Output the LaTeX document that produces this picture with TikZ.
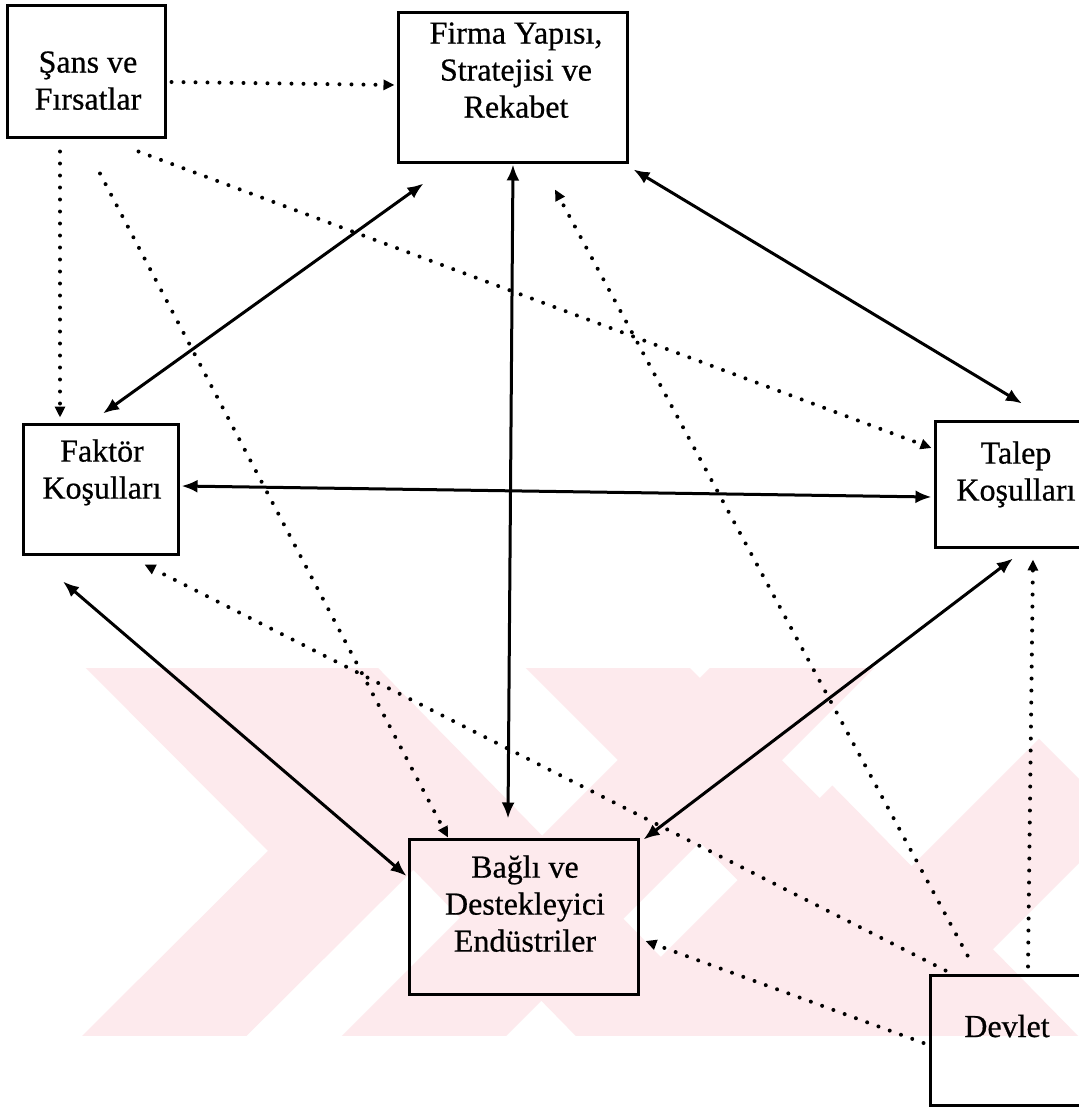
\documentclass[tikz,border=0pt]{standalone}
\usepackage{fontspec}
\setmainfont{Liberation Serif}
\newfontfamily\lblfont{Liberation Serif}[FakeBold=0.6]
\usetikzlibrary{arrows.meta,calc}
\definecolor{wm}{RGB}{253,234,237}
\begin{document}
\begin{tikzpicture}[x=0.5pt,y=-0.5pt,
  box/.style={draw,line width=1.5pt,rectangle,inner sep=0pt},
  lbl/.style={align=center,inner sep=0pt,font={\lblfont\fontsize{16}{18.5}\selectfont}},
  biarrow/.style={line width=1.5pt,{Latex[length=8pt,width=6.5pt]}-{Latex[length=8pt,width=6.5pt]}},
  dotarrow/.style={line width=2pt,line cap=round,dash pattern=on 0pt off 6pt,-{Triangle[length=5.5pt,width=5pt]}},
  wmstripe/.style={wm,line width=58pt,line cap=butt,line join=miter}
]
\useasboundingbox (0,0) rectangle (1079,1108);
\clip (0,0) rectangle (1079,1108);
\fill[white] (0,0) rectangle (1079,1108);
% watermark
\begin{scope}
\clip (0,668) rectangle (1079,1035);
\draw[wmstripe] (120,620) -- (350,851) -- (120,1080);
\draw[wmstripe] (250,620) -- (700,1080);
\draw[wmstripe] (380,1080) -- (840,620);
\draw[wmstripe] (620,1080) -- (832,868) -- (1040,1080);
\draw[wmstripe] (780,1080) -- (1080,780);
\draw[wmstripe] (560,620) -- (1079,1140);
\end{scope}
% boxes
\node[box,minimum width=79pt,minimum height=66pt] (sans) at (86,71) {};
\node[box,minimum width=114.5pt,minimum height=75pt] (firma) at (512.5,87) {};
\node[box,minimum width=77.5pt,minimum height=65pt] (faktor) at (100.5,489) {};
\node[box,minimum width=80pt,minimum height=63pt] (talep) at (1015,484) {};
\node[box,minimum width=114.5pt,minimum height=77.5pt] (bagli) at (523.5,916.5) {};
\node[box,minimum width=77pt,minimum height=65pt] (devlet) at (1007,1040) {};
% labels
\node[lbl,anchor=north] (sansT) at (88,51) {Şans ve\\Fırsatlar};
\node[lbl,anchor=north] (firmaT) at (516,22) {Firma Yapısı,\\Stratejisi ve\\Rekabet};
\node[lbl,anchor=north] (faktorT) at (102,439) {Faktör\\Koşulları};
\node[lbl,anchor=north] (talepT) at (1016,441) {Talep\\Koşulları};
\node[lbl,anchor=north] (bagliT) at (525,855) {Bağlı ve\\Destekleyici\\Endüstriler};
\node[lbl,anchor=base] (devletT) at (1007,1037) {Devlet};
% solid two-way connectors
\draw[biarrow] ([shift={(0.5,1)}]firma.south) -- ([shift={(-15.5,-19)}]bagli.north);
\draw[biarrow] ([shift={(2.5,-9)}]faktor.north) -- ([shift={(27,20)}]firma.south west);
\draw[biarrow] ([shift={(5,6)}]firma.south east) -- ([shift={(7,-16)}]talep.north);
\draw[biarrow] ([shift={(2,-3)}]faktor.east) -- ([shift={(-2,13)}]talep.west);
\draw[biarrow] ([shift={(-37.5,26)}]faktor.south) -- ([shift={(-1,-40.5)}]bagli.west);
\draw[biarrow] ([shift={(-2,10)}]talep.south) -- ([shift={(4,2)}]bagli.north east);
% dotted connectors
\draw[dotarrow] ([shift={(5,11)}]sans.east) -- ([shift={(-2,-2)}]firma.west);
\draw[dotarrow] ([shift={(-26,13)}]sans.south) -- ([shift={(-40.5,-5)}]faktor.north);
\draw[dotarrow] ([shift={(14,35)}]sans.south) -- ([shift={(-75.5,0)}]bagli.north);
\draw[dotarrow] ([shift={(-28,13)}]sans.south east) -- ([shift={(-2,-36)}]talep.west);
\draw[dotarrow] ([shift={(21,-7)}]devlet.north) -- ([shift={(18,11)}]talep.south);
\draw[dotarrow] ([shift={(39,-18)}]devlet.north west) -- ([shift={(42.5,26)}]firma.south);
\draw[dotarrow] ([shift={(17,-3)}]devlet.north west) -- ([shift={(-35,9)}]faktor.south east);
\draw[dotarrow] ([shift={(-5,3)}]devlet.west) -- ([shift={(6,24.5)}]bagli.east);
\end{tikzpicture}
\end{document}
